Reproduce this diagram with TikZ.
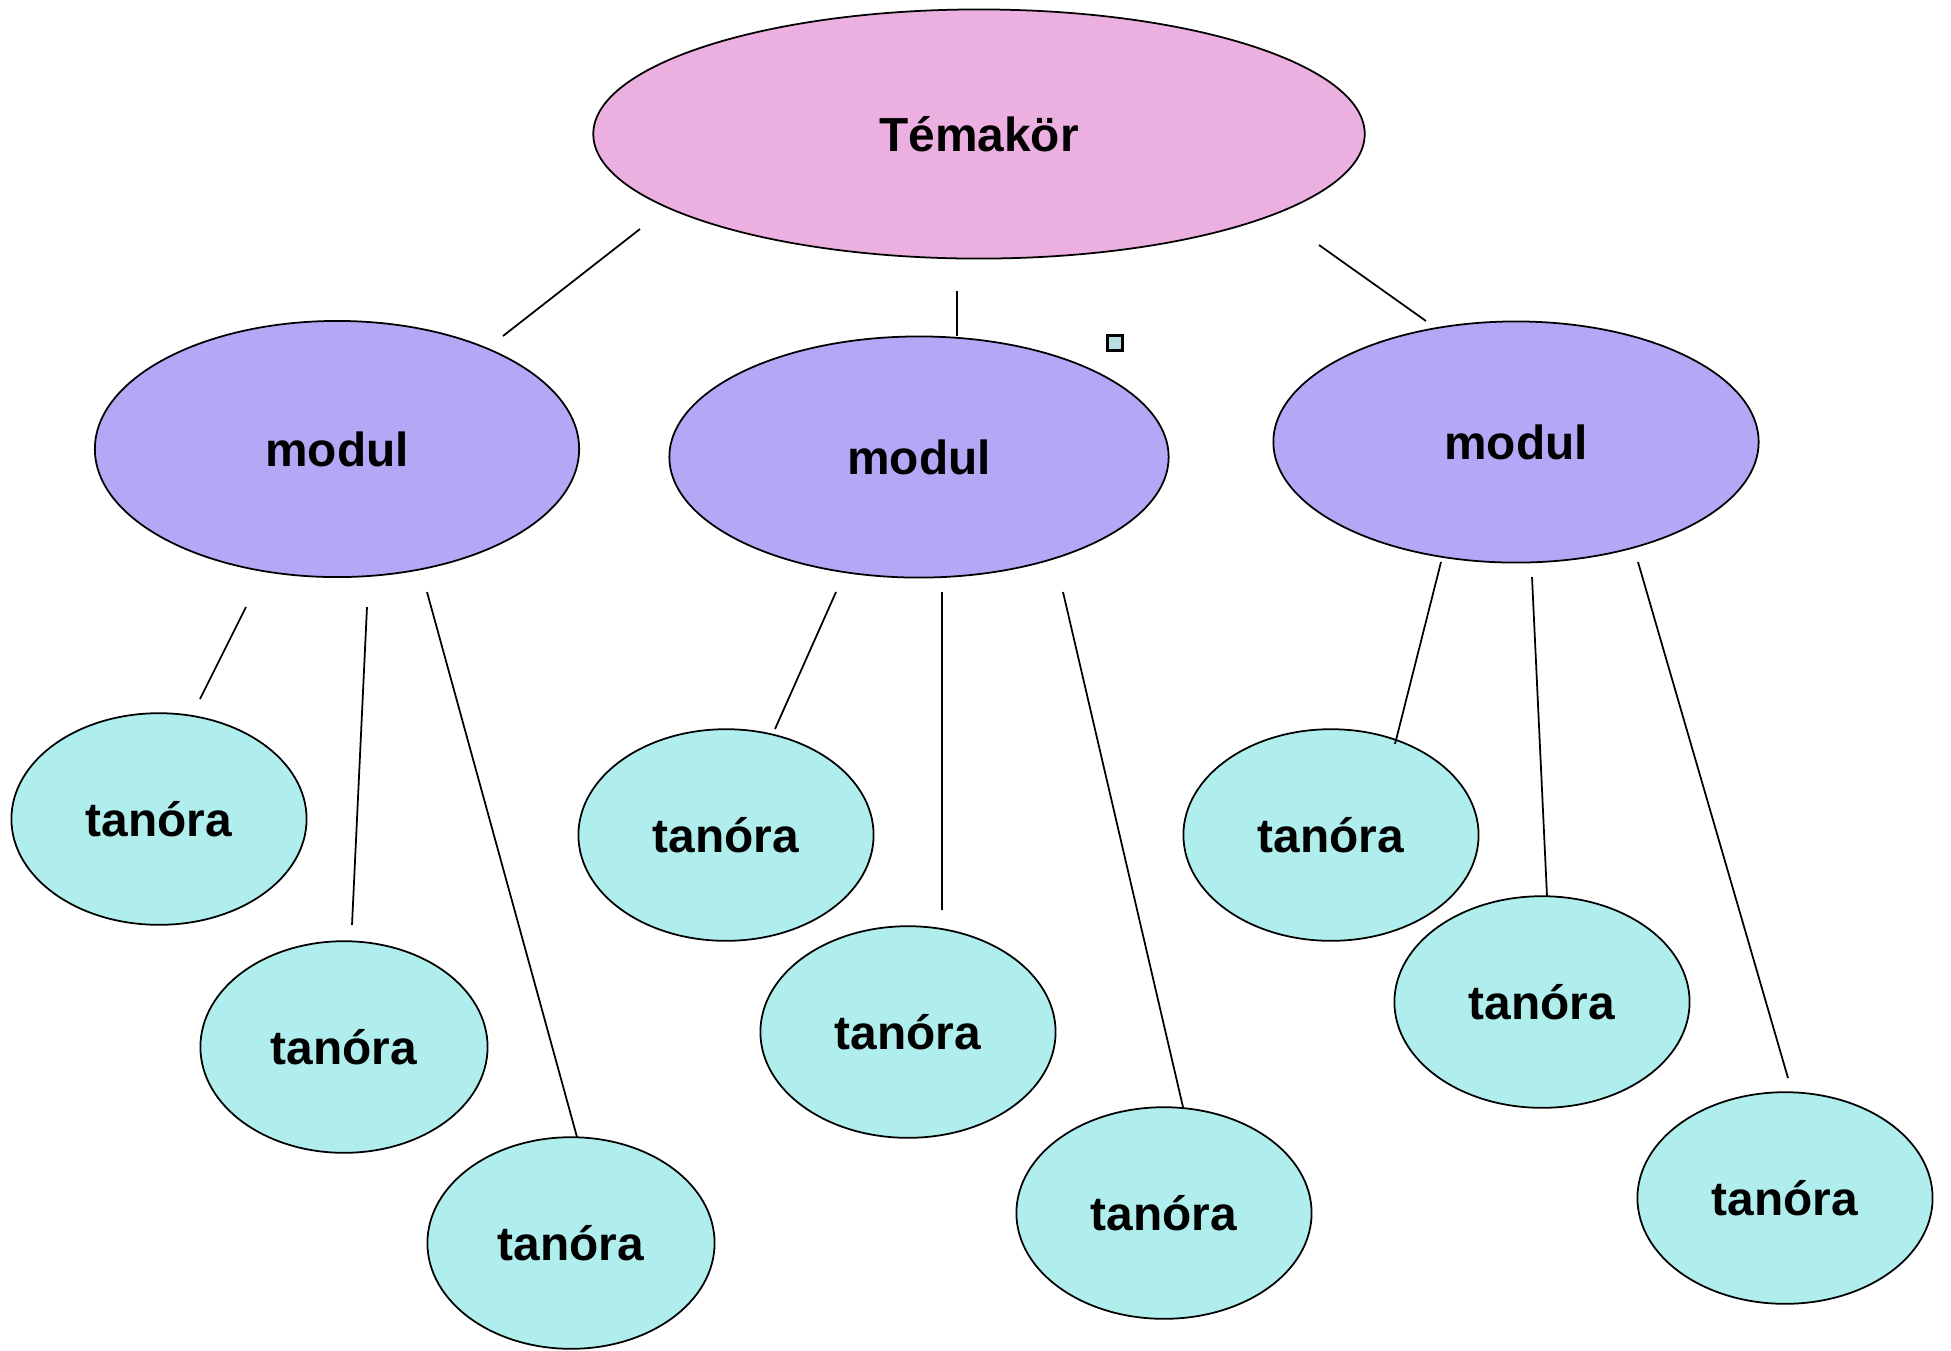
\documentclass[tikz,border=0pt]{standalone}
\usepackage{fontspec}
\setmainfont{Liberation Sans}
\usetikzlibrary{shapes.geometric}
\definecolor{topfill}{HTML}{EBB0E0}
\definecolor{modfill}{HTML}{B4A8F6}
\definecolor{lessonfill}{HTML}{B0EEEE}
\definecolor{markfill}{HTML}{B8E0E4}
\tikzset{
  bubble/.style={ellipse, draw=black, line width=0.5pt, inner sep=0pt,
    font=\fontsize{13.6}{16}\selectfont\bfseries},
  topic/.style={bubble, fill=topfill},
  module/.style={bubble, fill=modfill},
  lesson/.style={bubble, fill=lessonfill, minimum width=2.95cm, minimum height=2.115cm},
  link/.style={draw=black, line width=0.5pt}
}
\begin{document}
\begin{tikzpicture}[x=0.01cm, y=-0.01cm]
\useasboundingbox (0,0) rectangle (1951,1350);

% main topic
\node[topic, minimum width=7.71cm, minimum height=2.49cm] (topic) at (979,134) {Témakör};

% modules
\node[module, minimum width=4.84cm, minimum height=2.56cm] (m1) at (337,449) {modul};
\node[module, minimum width=4.99cm, minimum height=2.41cm] (m2) at (919,457) {modul};
\node[module, minimum width=4.85cm, minimum height=2.41cm] (m3) at (1516,442) {modul};

% lessons
\node[lesson] (t1) at (159,819) {tanóra};
\node[lesson, minimum width=2.87cm] (t2) at (344,1047) {tanóra};
\node[lesson, minimum width=2.87cm] (t3) at (571,1243) {tanóra};
\node[lesson] (t4) at (726,835) {tanóra};
\node[lesson] (t5) at (908,1032) {tanóra};
\node[lesson] (t6) at (1164,1213) {tanóra};
\node[lesson] (t7) at (1331,835) {tanóra};
\node[lesson] (t8) at (1542,1002) {tanóra};
\node[lesson] (t9) at (1785,1198) {tanóra};

% free-standing connector ends
\coordinate (a1) at (640,229);   \coordinate (b1) at (503,336);
\coordinate (a2) at (957,291);   \coordinate (b2) at (957,336);
\coordinate (a3) at (1319,245);  \coordinate (b3) at (1426,321);
\coordinate (c1) at (246,607);   \coordinate (d1) at (200,699);
\coordinate (c2) at (367,607);   \coordinate (d2) at (352,925);
\coordinate (c3) at (427,592);   \coordinate (d3) at (577,1137);
\coordinate (c4) at (836,592);   \coordinate (d4) at (775,729);
\coordinate (c5) at (942,592);   \coordinate (d5) at (942,910);
\coordinate (c6) at (1063,592);  \coordinate (d6) at (1183,1107);
\coordinate (c7) at (1441,562);  \coordinate (d7) at (1395,744);
\coordinate (c8) at (1532,577);  \coordinate (d8) at (1547,896);
\coordinate (c9) at (1638,562);  \coordinate (d9) at (1788,1078);

\foreach \i in {1,2,3} \draw[link] (a\i) -- (b\i);
\foreach \i in {1,...,9} \draw[link] (c\i) -- (d\i);

% small marker square
\node[draw=black, line width=0.7pt, fill=markfill, minimum size=0.15cm, inner sep=0pt] (mark) at (1115,343) {};
\end{tikzpicture}
\end{document}
